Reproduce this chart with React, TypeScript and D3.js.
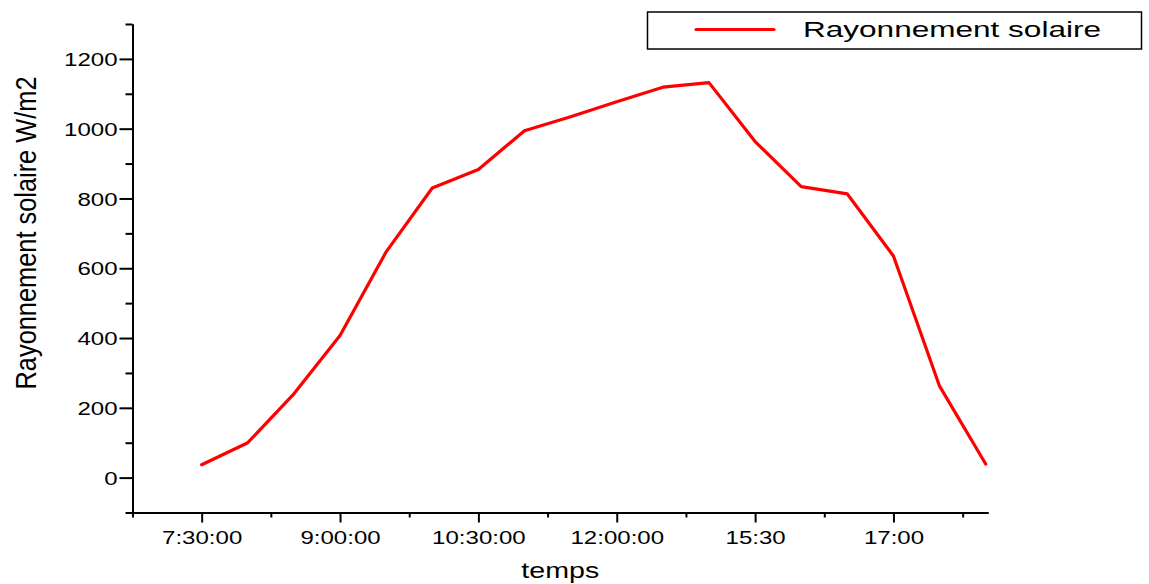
import React, { useEffect, useRef } from "react";
import * as d3 from "d3";

// Solar irradiance over the day (W/m2), one reading per half hour
const radiation = [37, 100, 240, 407, 647, 830, 883, 994, 1034, 1077, 1119, 1132, 963, 834, 813, 635, 262, 39];
const xTickIndex = [0, 3, 6, 9, 12, 15];
const xTickLabels = ["7:30:00", "9:00:00", "10:30:00", "12:00:00", "15:30", "17:00"];
const xMinorIndex = [-1.5, 1.5, 4.5, 7.5, 10.5, 13.5, 16.5];
const yMajorTicks = [0, 200, 400, 600, 800, 1000, 1200];
const yMinorTicks = [-100, 100, 300, 500, 700, 900, 1100, 1300];

const W = 1149;
const H = 584;
const FONT = "'Liberation Sans', Arial, Helvetica, sans-serif";
const STRETCH = 1.3;

export default function App() {
  const axesRef = useRef<SVGGElement | null>(null);

  const x = d3.scaleLinear().domain([-1.5, 17.05]).range([132.5, 988]);
  const y = d3.scaleLinear().domain([-100, 1300]).range([512.5, 24]);

  const line = d3
    .line<number>()
    .x((_, i) => x(i))
    .y((d) => y(d));

  useEffect(() => {
    const g = d3.select(axesRef.current);
    g.selectAll("*").remove();

    // y axis: minor then major ticks
    const yMinor = g.append("g").attr("transform", `translate(${x.range()[0]},0)`);
    yMinor.call(d3.axisLeft(y).tickValues(yMinorTicks).tickSize(7).tickSizeOuter(0).tickFormat(() => ""));
    const yMajor = g.append("g").attr("transform", `translate(${x.range()[0]},0)`);
    yMajor.call(d3.axisLeft(y).tickValues(yMajorTicks).tickSize(13).tickSizeOuter(0).tickFormat(d3.format("d")));
    yMajor
      .selectAll("text")
      .attr("x", -15)
      .attr("dy", "0.36em")
      .attr("class", "stretch");

    // x axis: minor then major ticks
    const xMinor = g.append("g").attr("transform", `translate(0,${y.range()[0]})`);
    xMinor.call(d3.axisBottom(x).tickValues(xMinorIndex).tickSize(5).tickSizeOuter(0).tickFormat(() => ""));
    const xMajor = g.append("g").attr("transform", `translate(0,${y.range()[0]})`);
    xMajor.call(
      d3
        .axisBottom(x)
        .tickValues(xTickIndex)
        .tickSize(10)
        .tickSizeOuter(0)
        .tickFormat((_, i) => xTickLabels[i])
    );
    xMajor.selectAll("text").attr("y", 31).attr("dy", null).attr("class", "stretch");

    g.selectAll(".domain").attr("stroke", "#000").attr("stroke-width", 2);
    g.selectAll(".tick line").attr("stroke", "#000").attr("stroke-width", 2);
    g.selectAll("text")
      .attr("font-family", FONT)
      .attr("font-size", 18.5)
      .attr("fill", "#000");

    // widen the labels to the chart's broad lettering
    d3.select(axesRef.current!.ownerSVGElement)
      .selectAll<SVGTextElement, unknown>("text.stretch")
      .each(function () {
        const len = this.getComputedTextLength();
        this.setAttribute("textLength", String(len * STRETCH));
        this.setAttribute("lengthAdjust", "spacingAndGlyphs");
      });
  }, []);

  return (
    <svg
      width={W}
      height={H}
      style={{ position: "absolute", left: 0, top: 0, background: "#fff" }}
    >
      <rect width={W} height={H} fill="#fff" />
      <g ref={axesRef} />

      <path
        d={line(radiation) ?? ""}
        fill="none"
        stroke="#ff0000"
        strokeWidth={3.2}
        strokeLinejoin="round"
        strokeLinecap="round"
      />

      {/* axis titles */}
      <text
        className="stretch"
        x={(x.range()[0] + x.range()[1]) / 2}
        y={578}
        textAnchor="middle"
        fontFamily={FONT}
        fontSize={22}
        fill="#000"
      >
        temps
      </text>
      <text
        transform="translate(36,233) rotate(-90) scale(1,1.3)"
        textAnchor="middle"
        fontFamily={FONT}
        fontSize={23}
        fill="#000"
        textLength={313}
        lengthAdjust="spacingAndGlyphs"
      >
        Rayonnement solaire W/m2
      </text>

      {/* legend */}
      <rect x={647.5} y={12} width={494} height={37} fill="#fff" stroke="#000" strokeWidth={1.5} />
      <line x1={696} x2={774} y1={29.5} y2={29.5} stroke="#ff0000" strokeWidth={3.2} strokeLinecap="round" />
      <text
        x={803}
        y={37}
        fontFamily={FONT}
        fontSize={22}
        fill="#000"
        textLength={298}
        lengthAdjust="spacingAndGlyphs"
      >
        Rayonnement solaire
      </text>
    </svg>
  );
}
